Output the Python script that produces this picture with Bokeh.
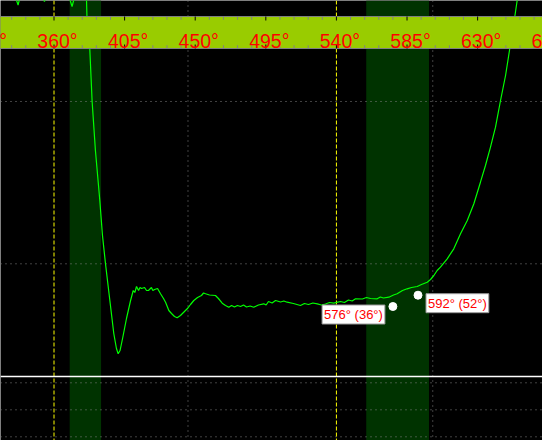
from bokeh.plotting import figure
from bokeh.models import Range1d, Span, BoxAnnotation
from bokeh.core.properties import value
from bokeh.embed import file_html
from bokeh.resources import INLINE

# ---- data (degrees vs. response) ----
sweep_deg = [325.9, 335.5, 337.1, 338.3, 345.0, 352.7, 353.9, 355.2, 364.1, 369.9,
             371.5, 372.7, 376.9, 380.7, 381.0, 382.8, 384.3, 386.4, 389.2, 390.9,
             392.8, 395.6, 398.1, 399.8, 400.9, 402.1, 403.7, 406.2, 408.8, 410.5,
             411.5, 412.6, 413.9, 414.8, 415.8, 417.7, 419.0, 420.2, 422.1, 423.0,
             424.1, 426.0, 427.9, 429.8,
             431.1, 433.2, 434.9, 436.8, 438.5, 440.6, 442.5, 444.9, 447.0, 449.1,
             451.5, 454.0, 455.3, 456.6, 459.1, 462.9, 464.8, 467.2, 469.3, 471.4,
             473.2, 475.0, 476.9, 478.9, 480.8, 482.7, 485.0, 487.3, 490.3, 493.7,
             495.2, 496.7, 499.0, 501.2, 504.4, 506.5, 508.6, 512.6,
             517.1, 519.6, 522.2, 525.0, 527.8, 530.4, 533.0, 535.6, 538.3, 542.6,
             545.1, 547.7, 550.0, 552.2, 556.6, 559.1, 561.7,
             566.0, 568.0, 570.0, 573.4, 576.4, 578.7, 582.1, 585.1, 587.9, 591.5, 594.2,
             597.9, 600.0, 602.1, 604.2, 606.3, 610.6, 614.8, 619.1, 623.4, 627.6,
             631.8, 635.0, 638.2, 641.4, 644.6, 647.8, 650.5, 653.7, 655.2, 656.7]
sweep_val = [45.5, 44.3, 43.55, 44.3, 45.2, 44.3, 43.9, 44.3, 45.0, 44.2,
             43.4, 44.1, 44.8, 44.2, 42.4, 39.2, 33.9, 29.0, 24.0, 20.5,
             17.7, 14.0, 10.7, 9.2, 8.67, 9.0, 10.2, 12.2, 14.0, 15.0,
             14.8, 15.4, 15.0, 15.3, 15.2, 15.3, 15.0, 15.0, 15.3, 15.0,
             15.1, 15.2, 14.67, 14.2,
             13.83, 13.0, 12.7, 12.4, 12.27, 12.5, 12.8, 13.17, 13.6, 14.0,
             14.3, 14.5, 14.75, 14.67, 14.55, 14.5, 14.2, 13.73, 13.5, 13.33,
             13.5, 13.35, 13.5, 13.4, 13.55, 13.35, 13.45, 13.33, 13.55, 13.67,
             13.55, 13.9, 13.75, 14.0, 13.85, 13.95, 13.83, 13.7,
             13.5, 13.7, 13.6, 13.75, 13.67, 13.55, 13.65, 13.8, 13.73, 13.9,
             13.8, 14.05, 13.95, 14.17, 14.15, 14.3, 14.2,
             14.17, 14.35, 14.25, 14.33, 14.55, 14.67, 15.0, 15.17, 15.3, 15.4, 15.6,
             15.83, 16.1, 16.5, 17.0, 17.33, 18.17, 19.17, 20.67, 22.0, 23.67,
             25.83, 27.5, 29.33, 31.33, 34.0, 36.5, 39.2, 42.4, 44.0, 45.5]

marker_deg = [576, 592]
marker_val = [13.4, 14.53]
marker_labels = ["576° (36°)", "592° (52°)"]

major_ticks = [315, 360, 405, 450, 495, 540, 585, 630, 675]
major_labels = ["315°", "360°", "405°", "450°", "495°", "540°", "585°", "630°", "675°"]

band_start = [370, 559]
band_end = [390, 599]
dashed_marks = [360, 540]
dotted_marks = [445.4, 601.4]
level_lines = [33.9, 17.67, 5.77, 3.07, 0.37]
ref_level = 6.4

# ---- layout ----
W, H = 542, 440
X0, X1 = 325.9, 671.35
Y0, Y1 = 0.0, 44.0
strip_top, strip_bottom = 42.4, 39.2
label_base = 40.0

minor_ticks = [t for t in range(315, 676, 9) if t not in major_ticks]

p = figure(width=W, height=H, x_range=Range1d(X0, X1), y_range=Range1d(Y0, Y1),
           output_backend="svg", toolbar_location=None,
           x_axis_type=None, y_axis_type=None, min_border=0)
p.background_fill_color = "black"
p.border_fill_color = "black"
p.outline_line_color = None
p.grid.visible = False

for s, e in zip(band_start, band_end):
    p.add_layout(BoxAnnotation(left=s, right=e, fill_color="#003300", fill_alpha=1.0,
                               line_alpha=0, level="image"))

for v in level_lines:
    p.add_layout(Span(location=v, dimension="width", line_color="#808080",
                      line_dash="1 4", line_width=1, level="underlay"))
for d in dotted_marks:
    p.add_layout(Span(location=d, dimension="height", line_color="#808080",
                      line_dash="1 4", line_width=1, level="underlay"))
for d in dashed_marks:
    p.add_layout(Span(location=d, dimension="height", line_color="#ffff00",
                      line_dash="4 2", line_width=1, level="underlay"))

p.line(sweep_deg, sweep_val, line_color="#00ff00", line_width=1.2)

# top scale strip
p.add_layout(BoxAnnotation(left=X0 - 20, right=X1 + 20, top=strip_top, bottom=strip_bottom,
                           fill_color="#99cc00", fill_alpha=1.0, line_alpha=0,
                           level="annotation"))
for v in (strip_top, strip_bottom):
    p.add_layout(Span(location=v, dimension="width", line_color="#808080",
                      line_width=1, level="annotation"))

p.segment(x0=minor_ticks, y0=[strip_top] * len(minor_ticks), x1=minor_ticks,
          y1=[strip_top - 0.33] * len(minor_ticks), line_color="#808080", line_width=1, level="overlay")
p.segment(x0=minor_ticks, y0=[strip_bottom] * len(minor_ticks), x1=minor_ticks,
          y1=[strip_bottom + 0.33] * len(minor_ticks), line_color="#808080", line_width=1, level="overlay")
p.segment(x0=major_ticks, y0=[strip_top] * len(major_ticks), x1=major_ticks,
          y1=[strip_top - 0.4] * len(major_ticks), line_color="black", line_width=1, level="overlay")
p.segment(x0=major_ticks, y0=[strip_bottom] * len(major_ticks), x1=major_ticks,
          y1=[strip_bottom + 0.4] * len(major_ticks), line_color="black", line_width=1, level="overlay")

p.text(x=major_ticks, y=[label_base] * len(major_ticks), text=major_labels,
       text_font=value("Liberation Sans"), text_font_size="19.5px", text_color="#ff0000",
       text_align="center", text_baseline="alphabetic", x_offset=3.5, level="overlay")

p.add_layout(Span(location=ref_level, dimension="width", line_color="white",
                  line_width=1.5, level="annotation"))

p.scatter(marker_deg, marker_val, size=8, fill_color="white", line_color="white", level="overlay")

p.text(x=marker_deg[:1], y=marker_val[:1], text=marker_labels[:1],
       text_font=value("Liberation Sans"), text_font_size="13px", text_color="#ff0000",
       text_align="right", text_baseline="top", x_offset=-8, y_offset=-1.5,
       background_fill_color="white", border_line_color="#999999", padding=2, level="overlay")
p.text(x=marker_deg[1:], y=marker_val[1:], text=marker_labels[1:],
       text_font=value("Liberation Sans"), text_font_size="13px", text_color="#ff0000",
       text_align="left", text_baseline="top", x_offset=8, y_offset=-1.5,
       background_fill_color="white", border_line_color="#999999", padding=2, level="overlay")

open("out.html", "w").write(file_html(p, INLINE))
